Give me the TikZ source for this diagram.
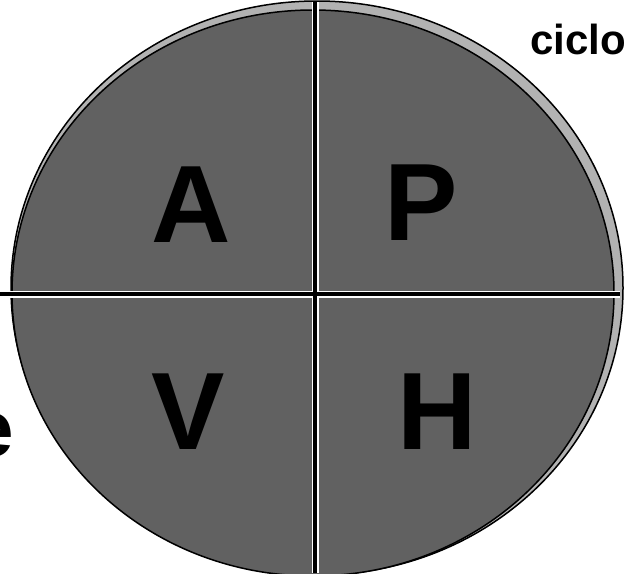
\documentclass[tikz,border=0pt]{standalone}
\usepackage{fontspec}
\setmainfont{Liberation Sans}
\tikzset{
  quadletter/.style={font=\fontsize{110}{120}\selectfont\bfseries, inner sep=0pt, anchor=base},
  divider/.style={line width=3.5pt, black},
}
\begin{document}
\begin{tikzpicture}[x=1pt,y=-1pt]
  \useasboundingbox (0,0) rectangle (626,573);
  % disc with rim
  \filldraw[fill=black!30, line width=1.5pt] (317,288) ellipse [x radius=306, y radius=287];
  \filldraw[fill=black!62, line width=1.5pt] (313,293) ellipse [x radius=301, y radius=283];
  % dividers
  \coordinate (W) at (0,294);
  \coordinate (E) at (620,294);
  \coordinate (N) at (315,2);
  \coordinate (S) at (315,573);
  \draw[white, line width=7pt] (N) -- (S);
  \draw[white, line width=7pt] (W) -- (E);
  \draw[divider] (N) -- (S);
  \draw[divider] (W) -- (E);
  % letters
  \node[quadletter] (A) at (191,242) {A};
  \node[quadletter] (P) at (421,240) {P};
  \node[quadletter] (V) at (188,449) {V};
  \node[quadletter] (H) at (437,449) {H};
  % texts outside
  \node[font=\fontsize{42}{48}\selectfont\bfseries, inner sep=0pt, anchor=base west] (ciclo) at (530,54) {ciclo};
  \node[font=\fontsize{80}{90}\selectfont\bfseries, inner sep=0pt, anchor=base east] (e) at (14,456) {e};
\end{tikzpicture}
\end{document}
